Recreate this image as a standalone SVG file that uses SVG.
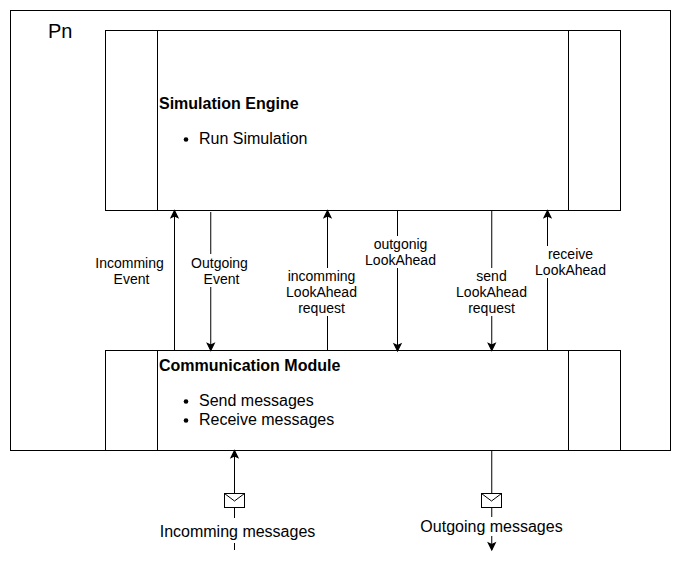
<svg xmlns="http://www.w3.org/2000/svg" width="681" height="569" viewBox="0 0 681 569">
<defs>
<marker id="a" markerUnits="userSpaceOnUse" markerWidth="12" markerHeight="12" refX="9.500" refY="6" orient="auto"><path d="M2.500 2.600L9.500 6L2.500 9.400L4 6Z" fill="#000" stroke="#000" stroke-width="1.200"/></marker>
</defs>
<style>
text{font-family:"Liberation Sans",Arial,sans-serif;fill:#000}
.s{font-size:14px;text-anchor:middle}
.m{font-size:16px}
.b{fill:#fff;stroke:#000;stroke-width:1}
.l{fill:none;stroke:#000;stroke-width:1}
.c{fill:none;stroke:#000;stroke-width:1;marker-end:url(#a)}
.w{fill:#fff}
</style>
<rect width="681" height="569" fill="#fff"/>
<g id="pn"><rect class="b" x="10.500" y="10.500" width="660" height="440"/><text x="48" y="38" font-size="20">Pn</text></g>
<g id="engine"><rect class="b" x="105.500" y="30.500" width="515" height="180"/><path class="l" d="M157.500 30.500V210.500M568.500 30.500V210.500"/>
<text class="m" x="159" y="109" font-weight="bold">Simulation Engine</text>
<circle cx="186" cy="139.500" r="2.300"/><text class="m" x="199" y="144">Run Simulation</text></g>
<g id="comm"><rect class="b" x="105.500" y="350.500" width="515" height="100"/><path class="l" d="M157.500 350.500V450.500M568.500 350.500V450.500"/>
<text class="m" x="159" y="371" font-weight="bold">Communication Module</text>
<circle cx="186" cy="401.500" r="2.300"/><text class="m" x="199" y="406">Send messages</text>
<circle cx="186" cy="420.500" r="2.300"/><text class="m" x="199" y="425">Receive messages</text></g>
<g id="connectors">
<path class="c" d="M174.500 350V210.500"/>
<path class="c" d="M210.750 212V350.500"/>
<path class="c" d="M327.500 350V210.500"/>
<path class="c" d="M397.500 211V351"/>
<path class="c" d="M491.750 211V350.500"/>
<path class="c" d="M547.500 350V210.500"/>
<path class="c" d="M234.500 550V450.500"/>
<path class="c" d="M491.750 451V550"/>
</g>
<g id="labels">
<text class="s" x="129.500" y="268">Incomming</text><text class="s" x="131.500" y="284">Event</text>
<rect class="w" x="190" y="254" width="60" height="33"/><text class="s" x="219.500" y="268">Outgoing</text><text class="s" x="221.500" y="284">Event</text>
<rect class="w" x="285" y="268" width="73" height="48"/><text class="s" x="321.500" y="281">incomming</text><text class="s" x="321.500" y="297">LookAhead</text><text class="s" x="321.500" y="313">request</text>
<rect class="w" x="365" y="236" width="72" height="32"/><text class="s" x="400.500" y="249">outgonig</text><text class="s" x="400.500" y="265">LookAhead</text>
<rect class="w" x="456" y="268" width="72" height="48"/><text class="s" x="491.500" y="281">send</text><text class="s" x="491.500" y="297">LookAhead</text><text class="s" x="491.500" y="313">request</text>
<rect class="w" x="535" y="246" width="72" height="32"/><text class="s" x="570.500" y="259">receive</text><text class="s" x="570.500" y="275">LookAhead</text>
</g>
<g id="msg1">
<rect class="b" x="224.500" y="493.500" width="20" height="14"/><path class="l" d="M224.500 493.500L234.500 501L244.500 493.500"/>
<rect class="w" x="159" y="518" width="157" height="25"/><text x="237.500" y="537" font-size="16" text-anchor="middle">Incomming messages</text>
</g>
<g id="msg2">
<rect class="b" x="481.500" y="493.500" width="20" height="14"/><path class="l" d="M481.500 493.500L491.500 501L501.500 493.500"/>
<rect class="w" x="420" y="517" width="143" height="19"/><text x="491.500" y="532" font-size="16" text-anchor="middle">Outgoing messages</text>
</g>
</svg>
